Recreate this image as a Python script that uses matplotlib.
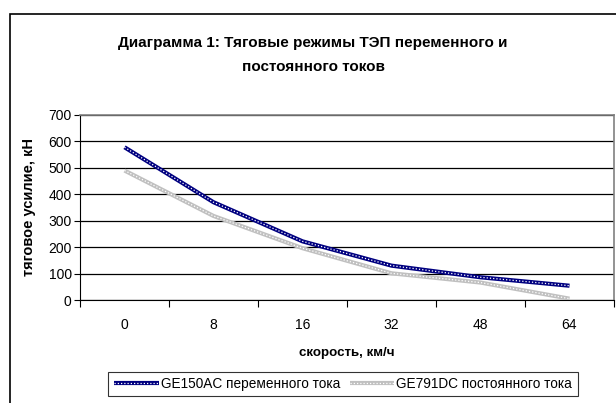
import matplotlib.pyplot as plt
from matplotlib.patches import Rectangle

plt.rcParams['font.family'] = ['Liberation Sans', 'DejaVu Sans']

# data
speeds = ['0', '8', '16', '32', '48', '64']
ac_force = [578, 370, 222, 130, 86, 54]
dc_force = [490, 318, 196, 101, 66, 5]
y_ticks = [0, 100, 200, 300, 400, 500, 600, 700]

fig = plt.figure(figsize=(6.16, 4.03), dpi=100)
ax = fig.add_axes([80/616, 1 - 300/403, 534/616, 185/403])

x = range(len(speeds))

# patterned lines: thick colour + white dots on top
ac_base, = ax.plot(x, ac_force, color='#000080', lw=3.0, solid_capstyle='butt', zorder=3)
ac_dots, = ax.plot(x, ac_force, color='white', lw=0.9, ls=(0, (1, 1.6)), zorder=4)
dc_base, = ax.plot(x, dc_force, color='#c0c0c0', lw=3.0, solid_capstyle='butt', zorder=3)
dc_dots, = ax.plot(x, dc_force, color='white', lw=0.9, ls=(0, (1, 1.6)), zorder=4)

ax.set_xlim(-0.5, len(speeds) - 0.5)
ax.set_ylim(0, 700)
ax.set_yticks(y_ticks)
ax.tick_params(axis='y', length=4, labelsize=10, pad=2)

# category axis: tick marks between categories, labels at centres
ax.set_xticks([i - 0.5 for i in range(len(speeds) + 1)])
ax.set_xticklabels([])
ax.set_xticks(list(x), minor=True)
ax.set_xticklabels(speeds, minor=True)
ax.tick_params(axis='x', which='major', length=5, direction='out')
ax.tick_params(axis='x', which='minor', length=0, labelsize=10, pad=13)

ax.yaxis.grid(True, color='black', lw=0.9)
ax.set_axisbelow(True)
for s in ['top', 'right']:
    ax.spines[s].set_color('#808080')
    ax.spines[s].set_linewidth(1.2)
for s in ['left', 'bottom']:
    ax.spines[s].set_color('black')

ax.set_ylabel('тяговое усилие, кН', fontsize=10.5, fontweight='bold', labelpad=9)
ax.set_xlabel('скорость, км/ч', fontsize=9.6, fontweight='bold', labelpad=11)

fig.text(313/616, 1 - 55/403,
         'Диаграмма 1: Тяговые режимы ТЭП переменного и\nпостоянного токов',
         ha='center', va='center', fontsize=11, fontweight='bold', linespacing=1.85)

leg = fig.legend([(ac_base, ac_dots), (dc_base, dc_dots)],
                 ['GE150AC переменного тока', 'GE791DC постоянного тока'],
                 loc='center', bbox_to_anchor=(343/616, 1 - 384/403), ncol=2,
                 fontsize=9.8, frameon=True, fancybox=False, edgecolor='black',
                 handlelength=3.3, handletextpad=0.15, columnspacing=0.7,
                 borderpad=0.4)
leg.get_frame().set_linewidth(0.8)

# outer chart frame
fig.add_artist(Rectangle((10/616, -0.1), 1.0, 1.1 - 14/403, transform=fig.transFigure,
                         fill=False, edgecolor='black', lw=1.2))

fig.savefig('out.png', dpi=100)
